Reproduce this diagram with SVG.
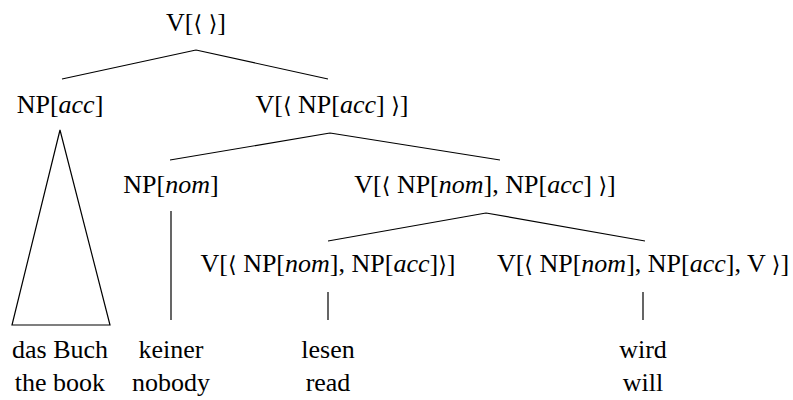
<svg xmlns="http://www.w3.org/2000/svg" width="793" height="400" viewBox="0 0 793 400">
<style>
.e{stroke:#000;stroke-width:1.2;fill:none}
</style>
<rect width="793" height="400" fill="#fff"/>
<g id="connectors">
<path class="e" d="M196,50L62,79M196,50L328,79"/>
<path class="e" d="M60,130L12,325L110,325Z"/>
<path class="e" d="M330,133L170,160M330,133L500,160"/>
<path class="e" d="M171,211V320"/>
<path class="e" d="M486,213L328,241M486,213L645,241"/>
<path class="e" d="M328,292V320M643,292V320"/>
</g>
<g id="root"><text x="196" y="31" font-family="Liberation Serif" font-size="26" text-anchor="middle">V[<tspan font-family="DejaVu Sans" font-size="22">⟨</tspan> <tspan font-family="DejaVu Sans" font-size="22">⟩</tspan>]</text></g>
<g id="np-acc"><text x="60" y="113" font-family="Liberation Serif" font-size="26" text-anchor="middle">NP[<tspan font-style="italic">acc</tspan>]</text></g>
<g id="v1"><text x="332" y="113" font-family="Liberation Serif" font-size="26" text-anchor="middle">V[<tspan font-family="DejaVu Sans" font-size="22">⟨</tspan> NP[<tspan font-style="italic">acc</tspan>] <tspan font-family="DejaVu Sans" font-size="22">⟩</tspan>]</text></g>
<g id="np-nom"><text x="171" y="193" font-family="Liberation Serif" font-size="26" text-anchor="middle">NP[<tspan font-style="italic">nom</tspan>]</text></g>
<g id="v2"><text x="485" y="193" font-family="Liberation Serif" font-size="26" text-anchor="middle">V[<tspan font-family="DejaVu Sans" font-size="22">⟨</tspan> NP[<tspan font-style="italic">nom</tspan>], NP[<tspan font-style="italic">acc</tspan>] <tspan font-family="DejaVu Sans" font-size="22">⟩</tspan>]</text></g>
<g id="v3"><text x="328" y="272" font-family="Liberation Serif" font-size="26" text-anchor="middle">V[<tspan font-family="DejaVu Sans" font-size="22">⟨</tspan> NP[<tspan font-style="italic">nom</tspan>], NP[<tspan font-style="italic">acc</tspan>]<tspan font-family="DejaVu Sans" font-size="22">⟩</tspan>]</text></g>
<g id="v4"><text x="643" y="272" font-family="Liberation Serif" font-size="26" text-anchor="middle">V[<tspan font-family="DejaVu Sans" font-size="22">⟨</tspan> NP[<tspan font-style="italic">nom</tspan>], NP[<tspan font-style="italic">acc</tspan>], V <tspan font-family="DejaVu Sans" font-size="22">⟩</tspan>]</text></g>
<g id="w1"><text x="60" y="358" font-family="Liberation Serif" font-size="26" text-anchor="middle">das Buch</text><text x="60" y="391" font-family="Liberation Serif" font-size="26" text-anchor="middle">the book</text></g>
<g id="w2"><text x="171" y="358" font-family="Liberation Serif" font-size="26" text-anchor="middle">keiner</text><text x="171" y="391" font-family="Liberation Serif" font-size="26" text-anchor="middle">nobody</text></g>
<g id="w3"><text x="328" y="358" font-family="Liberation Serif" font-size="26" text-anchor="middle">lesen</text><text x="328" y="391" font-family="Liberation Serif" font-size="26" text-anchor="middle">read</text></g>
<g id="w4"><text x="643" y="358" font-family="Liberation Serif" font-size="26" text-anchor="middle">wird</text><text x="643" y="391" font-family="Liberation Serif" font-size="26" text-anchor="middle">will</text></g>
</svg>
